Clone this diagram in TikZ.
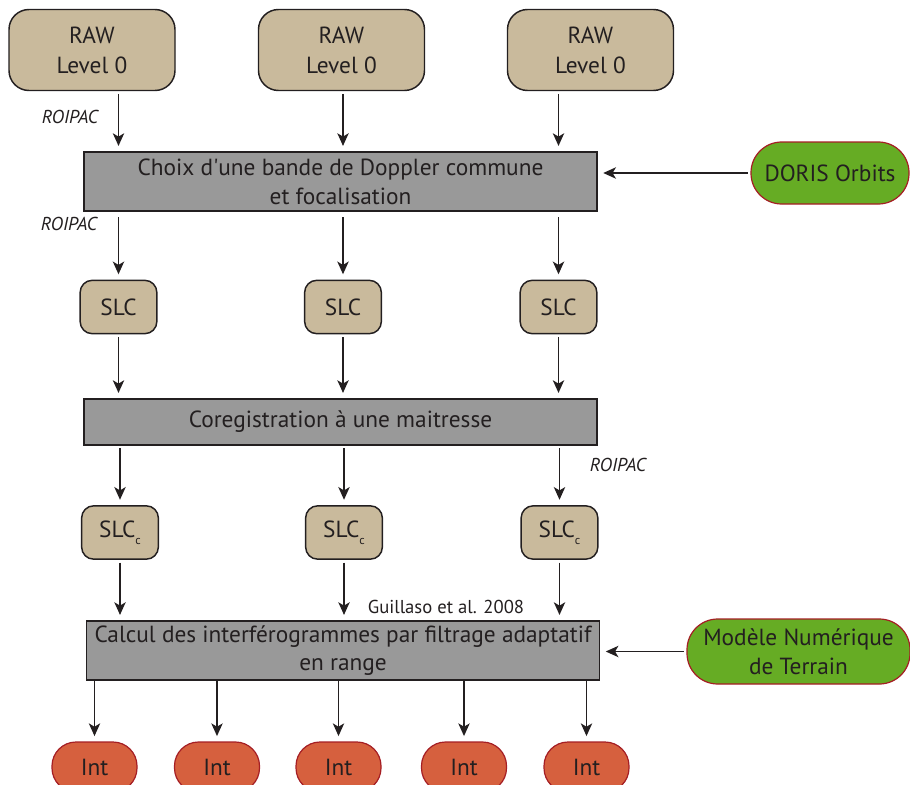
\documentclass[tikz,border=0pt]{standalone}
\usepackage{fontspec}
\setmainfont{PT Sans}
\usetikzlibrary{arrows.meta}
\definecolor{rawtan}{RGB}{201,186,156}
\definecolor{stepgray}{RGB}{153,153,153}
\definecolor{auxgreen}{RGB}{102,172,36}
\definecolor{auxred}{RGB}{165,30,36}
\definecolor{intred}{RGB}{214,96,62}
\definecolor{inkblack}{RGB}{35,31,32}
\begin{document}
\begin{tikzpicture}[x=0.75pt,y=0.75pt,yscale=-1,xscale=1,
    every node/.style={text=inkblack,inner sep=0pt,align=center},
    rawbox/.style={draw=inkblack,line width=1.1pt,fill=rawtan,rounded corners=15pt,minimum width=124.5pt,minimum height=60.75pt,font=\fontsize{17.5}{22.5}\selectfont},
    slcbox/.style={draw=inkblack,line width=1.1pt,fill=rawtan,rounded corners=9pt,minimum width=57.5pt,minimum height=40pt,font=\fontsize{17.5}{22}\selectfont},
    stepbox/.style={draw=inkblack,line width=1.1pt,fill=stepgray,minimum width=385pt,font=\fontsize{17.5}{21.5}\selectfont},
    auxbox/.style={draw=auxred,line width=0.9pt,fill=auxgreen,rounded corners=23pt,font=\fontsize{17.5}{21.5}\selectfont},
    intbox/.style={draw=auxred,line width=0.9pt,fill=intred,rounded corners=18pt,minimum width=63.75pt,minimum height=37.5pt,font=\fontsize{17.5}{22}\selectfont},
    tool/.style={font=\fontsize{14}{16}\selectfont},
    arr/.style={-{Stealth[length=9.5pt,width=8.5pt,inset=2.5pt]},line width=1.1pt,draw=inkblack,shorten <=2pt,shorten >=4pt}]
\useasboundingbox (0,0) rectangle (910,785);
% Raw data
\node[rawbox] (raw1) at (92,50) {RAW\\Level 0};
\node[rawbox] (raw2) at (341.5,50) {RAW\\Level 0};
\node[rawbox] (raw3) at (590.5,50) {RAW\\Level 0};
% Processing steps
\node[stepbox,minimum height=44.25pt] (choix) at (340.5,181.5) {Choix d\textquotesingle une bande de Doppler commune\\et focalisation};
\node[stepbox,minimum height=34.5pt] (coreg) at (340.5,422) {Coregistration à une maitresse};
\node[stepbox,minimum height=44.25pt] (calcul) at (343,650.5) {Calcul des interférogrammes par filtrage adaptatif\\en range};
% External inputs
\node[auxbox,minimum width=118.5pt,minimum height=46.5pt] (doris) at (830,173) {DORIS Orbits};
\node[auxbox,minimum width=167.25pt,minimum height=48.75pt] (mnt) at (798.5,651.5) {Modèle Numérique\\de Terrain};
% SLC
\node[slcbox] (slc1) at (118.5,307) {SLC};
\node[slcbox] (slc2) at (343,307) {SLC};
\node[slcbox] (slc3) at (558.5,307) {SLC};
\node[slcbox] (slcc1) at (120,532.5) {SLC\raisebox{-0.6ex}{\fontsize{9}{9}\selectfont c}};
\node[slcbox] (slcc2) at (344,532.5) {SLC\raisebox{-0.6ex}{\fontsize{9}{9}\selectfont c}};
\node[slcbox] (slcc3) at (559.5,532.5) {SLC\raisebox{-0.6ex}{\fontsize{9}{9}\selectfont c}};
% Interferograms
\foreach \n/\x in {1/94.5,2/217,3/338.5,4/464,5/586.5}
  \node[intbox] (int\n) at (\x,767) {Int};
% Text Node
\node[tool,font=\fontsize{14}{16}\selectfont\itshape] (roi1) at (70,117) {ROIPAC};
% Text Node
\node[tool,font=\fontsize{14}{16}\selectfont\itshape] (roi2) at (69,224) {ROIPAC};
% Text Node
\node[tool,font=\fontsize{14}{16}\selectfont\itshape] (roi3) at (618,465) {ROIPAC};
% Text Node
\node[tool] (guil) at (446,607) {Guillaso et al. 2008};
% Arrows
\foreach \i in {1,2,3}{
  \draw[arr] (raw\i.south -| slc\i) -- (choix.north -| slc\i);
  \draw[arr,shorten <=4pt] (choix.south -| slc\i) -- (slc\i.north);
  \draw[arr] (slc\i.south) -- (coreg.north -| slc\i);
  \draw[arr] (coreg.south -| slcc\i) -- (slcc\i.north);
  \draw[arr] (slcc\i.south) -- (calcul.north -| slcc\i);
}
\foreach \n in {1,...,5}
  \draw[arr,shorten <=0pt] (calcul.south -| int\n) -- (int\n.north);
\draw[arr] (doris.west) -- (doris.west -| choix.east);
\draw[arr] (mnt.west) -- (mnt.west -| calcul.east);
\end{tikzpicture}
\end{document}
